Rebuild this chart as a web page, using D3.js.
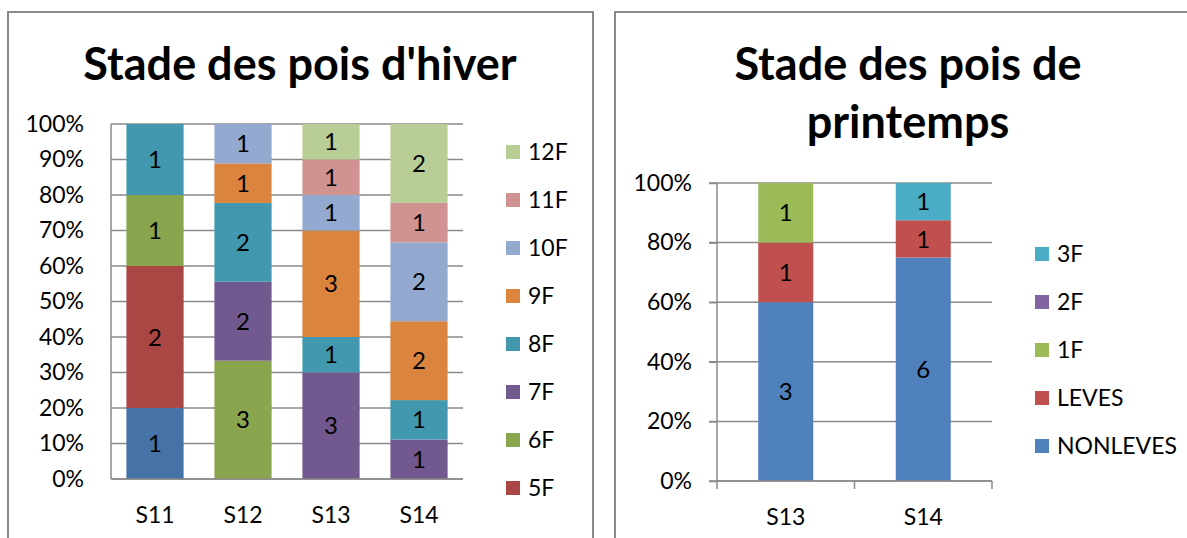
<!DOCTYPE html>
<html>
<head>
<meta charset="utf-8">
<script src="https://cdn.jsdelivr.net/npm/d3@7/dist/d3.min.js"></script>
<style>
  body { margin: 0; background: #fff; }
  text { font-family: Lato, "Open Sans", sans-serif; fill: #000; }
</style>
</head>
<body>
<svg id="chart"></svg>
<script>
// ---- winter peas (left panel)
const winterCats = ["S11", "S12", "S13", "S14"];
const winterSeries = ["4F", "5F", "6F", "7F", "8F", "9F", "10F", "11F", "12F"];
const winterValues = [
  [1, 0, 0, 0], // 4F
  [2, 0, 0, 0], // 5F
  [1, 3, 0, 0], // 6F
  [0, 2, 3, 1], // 7F
  [1, 2, 1, 1], // 8F
  [0, 1, 3, 2], // 9F
  [0, 1, 1, 2], // 10F
  [0, 0, 1, 1], // 11F
  [0, 0, 1, 2]  // 12F
];
const winterColors = ["#4572A7", "#AA4643", "#89A54E", "#71588F", "#4198AF", "#DB843D", "#93A9CF", "#D19392", "#B9CD96"];
// legend is cut off by the bottom of the panel, 4F not visible
const winterLegend = ["12F", "11F", "10F", "9F", "8F", "7F", "6F", "5F"];
const winterTicks = [0, 0.1, 0.2, 0.3, 0.4, 0.5, 0.6, 0.7, 0.8, 0.9, 1];

// ---- spring peas (right panel)
const springCats = ["S13", "S14"];
const springSeries = ["NONLEVES", "LEVES", "1F", "2F", "3F"];
const springValues = [
  [3, 6], // NONLEVES
  [1, 1], // LEVES
  [1, 0], // 1F
  [0, 0], // 2F
  [0, 1]  // 3F
];
const springColors = ["#4F81BD", "#C0504D", "#9BBB59", "#8064A2", "#4BACC6"];
const springLegend = ["3F", "2F", "1F", "LEVES", "NONLEVES"];
const springTicks = [0, 0.2, 0.4, 0.6, 0.8, 1];

const width = 1187, height = 538;
const gridColor = "#8a8a8a";

const svg = d3.select("#chart").attr("width", width).attr("height", height);
svg.append("rect").attr("width", width).attr("height", height).attr("fill", "#fff");

// panel frames (bottom / right edges are outside the picture)
svg.append("rect").attr("x", 8).attr("y", 12).attr("width", 585).attr("height", 560)
  .attr("fill", "none").attr("stroke", gridColor).attr("stroke-width", 2);
svg.append("rect").attr("x", 615).attr("y", 12).attr("width", 600).attr("height", 560)
  .attr("fill", "none").attr("stroke", gridColor).attr("stroke-width", 2);

function drawPanel(cfg) {
  const g = svg.append("g");

  const rows = cfg.cats.map((c, i) => {
    const r = { cat: c };
    cfg.series.forEach((s, j) => r[s] = cfg.values[j][i]);
    return r;
  });
  const stacked = d3.stack().keys(cfg.series).offset(d3.stackOffsetExpand)(rows);

  const x = d3.scaleBand().domain(cfg.cats)
    .range([cfg.left, cfg.right])
    .paddingInner(cfg.pad).paddingOuter(cfg.pad / 2);
  const y = d3.scaleLinear().domain([0, 1]).range([cfg.bottom, cfg.top]);
  const color = d3.scaleOrdinal().domain(cfg.series).range(cfg.colors);

  // title
  const title = g.append("text")
    .attr("x", cfg.titleX).attr("y", cfg.titleY)
    .attr("text-anchor", "middle")
    .style("font-size", "45px").style("font-weight", "bold");
  cfg.title.forEach((line, i) => {
    title.append("tspan").attr("x", cfg.titleX).attr("dy", i == 0 ? 0 : 58).text(line);
  });

  // gridlines
  g.append("g").selectAll("line")
    .data(cfg.ticks)
    .join("line")
    .attr("x1", cfg.left - cfg.tickOut).attr("x2", cfg.right)
    .attr("y1", d => y(d)).attr("y2", d => y(d))
    .attr("stroke", gridColor).attr("stroke-width", 1.5);

  // bars
  g.append("g").selectAll("g")
    .data(stacked)
    .join("g")
    .attr("fill", d => color(d.key))
    .selectAll("rect")
    .data(d => d)
    .join("rect")
    .attr("x", d => x(d.data.cat))
    .attr("y", d => y(d[1]))
    .attr("width", x.bandwidth())
    .attr("height", d => y(d[0]) - y(d[1]));

  // segment values
  g.append("g").selectAll("g")
    .data(stacked)
    .join("g")
    .selectAll("text")
    .data(d => d.map(p => ({ p: p, v: p.data[d.key] })).filter(o => o.v > 0))
    .join("text")
    .attr("x", o => x(o.p.data.cat) + x.bandwidth() / 2)
    .attr("y", o => (y(o.p[0]) + y(o.p[1])) / 2)
    .attr("dy", "0.36em")
    .attr("text-anchor", "middle")
    .style("font-size", "24px")
    .text(o => o.v);

  // y axis
  const yAxis = g.append("g")
    .attr("transform", `translate(${cfg.left},0)`)
    .call(d3.axisLeft(y).tickValues(cfg.ticks).tickFormat(d3.format(".0%"))
      .tickSize(cfg.tickOut).tickPadding(cfg.labelGap - cfg.tickOut));
  yAxis.select(".domain").attr("stroke", gridColor).attr("stroke-width", 1.5)
    .attr("d", `M0,${cfg.bottom}V${cfg.top}`);
  yAxis.selectAll(".tick line").attr("stroke", gridColor).attr("stroke-width", 1.5);
  yAxis.selectAll("text").style("font-size", "23px").attr("fill", "#000");

  // x axis
  const xAxis = g.append("g")
    .attr("transform", `translate(0,${cfg.bottom})`)
    .call(d3.axisBottom(x).tickSize(0).tickPadding(cfg.catGap));
  xAxis.select(".domain").attr("stroke", gridColor).attr("stroke-width", 1.5)
    .attr("d", `M${cfg.left},0H${cfg.right}`);
  xAxis.selectAll("text").style("font-size", "23px").attr("fill", "#000");
  if (cfg.catTicks) {
    const edges = cfg.cats.map(c => x(c) - x.step() * x.paddingInner() / 2);
    edges.push(cfg.right);
    xAxis.append("g").selectAll("line")
      .data(edges)
      .join("line")
      .attr("x1", d => d).attr("x2", d => d)
      .attr("y1", 0).attr("y2", cfg.tickOut)
      .attr("stroke", gridColor).attr("stroke-width", 1.5);
  }

  // legend
  const leg = g.append("g").selectAll("g")
    .data(cfg.legend)
    .join("g")
    .attr("transform", (d, i) => `translate(${cfg.legendX},${cfg.legendY + i * 48})`);
  leg.append("rect")
    .attr("x", 0).attr("y", -7).attr("width", 14).attr("height", 14)
    .attr("fill", d => color(d));
  leg.append("text")
    .attr("x", 22).attr("dy", "0.36em")
    .style("font-size", "23px")
    .text(d => d);
}

drawPanel({
  cats: winterCats, series: winterSeries, values: winterValues, colors: winterColors,
  legend: winterLegend, ticks: winterTicks,
  left: 111, right: 463, top: 124, bottom: 479, pad: 0.35,
  tickOut: 0, labelGap: 27, catGap: 28, catTicks: false,
  title: ["Stade des pois d'hiver"], titleX: 300, titleY: 80,
  legendX: 506, legendY: 152
});

drawPanel({
  cats: springCats, series: springSeries, values: springValues, colors: springColors,
  legend: springLegend, ticks: springTicks,
  left: 717, right: 992, top: 183, bottom: 481, pad: 0.6,
  tickOut: 8, labelGap: 25, catGap: 28, catTicks: true,
  title: ["Stade des pois de", "printemps"], titleX: 908, titleY: 80,
  legendX: 1035, legendY: 254
});
</script>
</body>
</html>
